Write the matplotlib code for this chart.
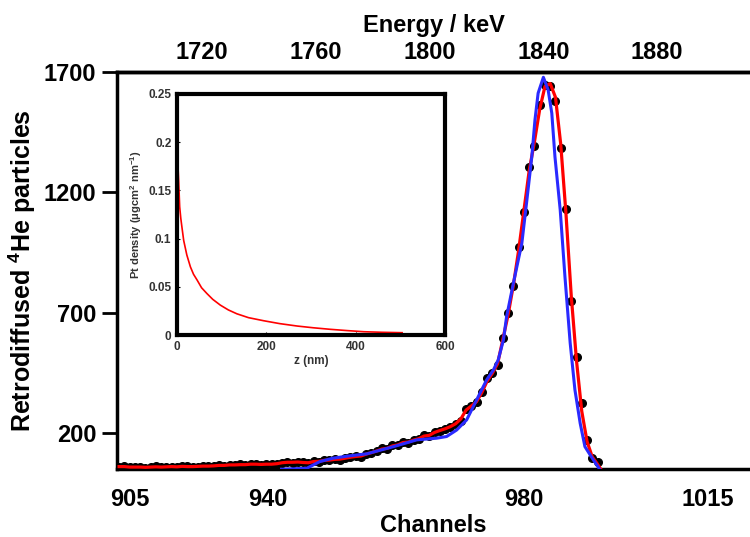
import numpy as np
import matplotlib.pyplot as plt

plt.rcParams['font.family'] = ['Liberation Sans', 'DejaVu Sans']
plt.rcParams['font.weight'] = 'bold'
plt.rcParams['mathtext.fontset'] = 'custom'
plt.rcParams['mathtext.rm'] = 'Liberation Sans:bold'
plt.rcParams['mathtext.bf'] = 'Liberation Sans:bold'
plt.rcParams['mathtext.it'] = 'Liberation Sans:bold'

# measured RBS spectrum, one point per channel (903..994)
chan = np.arange(903, 995)
counts = [60, 62, 58, 57, 59, 56, 58, 61, 57, 60,
          60, 58, 62, 61, 59, 60, 63, 61, 62, 66,
          64, 68, 66, 70, 67, 69, 72, 68, 70, 69,
          71, 76, 79, 77, 80, 78, 74, 83, 80, 88,
          86, 92, 89, 95, 99, 104, 100, 114, 116, 126,
          136, 132, 150, 148, 164, 160, 171, 175, 192, 188,
          205, 210, 218, 226, 238, 250, 300, 312, 328, 370,
          427, 448, 483,
          596, 700, 812, 973, 1120, 1306, 1393, 1563, 1646, 1643,
          1581, 1383, 1130, 749, 515, 323, 171, 95, 81]

# fit (red)
fit_chan = list(range(903, 995)) + [994.6]
fit_counts = [60, 60, 58, 58, 58, 57, 58, 59, 58, 59,
              60, 59, 61, 60, 60, 61, 62, 62, 63, 65,
              65, 67, 67, 68, 68, 70, 70, 69, 70, 70,
              72, 76, 78, 78, 79, 77, 76, 81, 82, 86,
              87, 90, 91, 95, 99, 102, 104, 112, 118, 125,
              133, 136, 146, 150, 160, 162, 170, 176, 187, 190,
              202, 210, 217, 226, 238, 258, 295, 312, 330, 368,
              415, 448, 488,
              590, 692, 815, 960, 1125, 1290, 1410, 1545, 1640, 1652,
              1595, 1400, 1110, 770, 500, 290, 165, 100, 70, 50]

# simulation (blue)
sim_chan = [933.9, 936.5, 938.7, 941.2, 943.7, 946.6, 950.1, 955.2, 959.6,
            963.4, 965.3, 967.2, 969.1, 971.0, 972.9, 974.2, 975.1, 976.1,
            976.7, 978.0, 979.6, 980.5, 981.5, 982.1, 982.7, 983.7, 984.6,
            985.3, 985.9, 986.9, 987.8, 988.8, 989.7, 990.7, 991.6, 992.9, 994.5]
sim_counts = [49, 51, 53, 81, 95, 104, 113, 143, 171,
              178, 185, 212, 254, 337, 420, 462, 503, 586,
              683, 823, 988, 1156, 1348, 1501, 1612, 1678, 1626,
              1529, 1348, 1127, 850, 573, 379, 240, 143, 98, 46]

# inset: Pt depth profile
z_nm = [1, 2.5, 3.7, 6, 8.5, 11, 15, 22, 30, 37, 45, 55, 67, 80, 97, 115,
        134, 160, 194, 230, 269, 305, 343, 380, 418, 460, 504]
pt_density = [0.19, 0.172, 0.16, 0.133, 0.121, 0.112, 0.098, 0.083, 0.0707,
              0.063, 0.057, 0.049, 0.043, 0.037, 0.031, 0.026, 0.022, 0.018,
              0.0148, 0.0118, 0.0093, 0.0075, 0.0059, 0.0046, 0.0034, 0.0028,
              0.0024]

# tick labels as printed on the original figure
chan_tick_pos = [905, 931.3, 980, 1015]
chan_tick_labels = ['905', '940', '980', '1015']
energy_ticks = [1720, 1760, 1800, 1840, 1880]
count_ticks = [200, 700, 1200, 1700]
z_ticks = [0, 200, 400, 600]
dens_ticks = [0, 0.05, 0.1, 0.15, 0.2, 0.25]
dens_labels = ['0', '0.05', '0.1', '0.15', '0.2', '0.25']


def ch2e(c):
    return 1800 + 1.8486 * (np.asarray(c) - 962.04)


def e2ch(e):
    return 962.04 + (np.asarray(e) - 1800) / 1.8486


fig = plt.figure(figsize=(7.5, 5.37), dpi=100)
ax = fig.add_axes([117 / 750, 68 / 537, 1 - 117 / 750, 397 / 537])
ax.plot(chan, counts, 'o', color='black', ms=5.5, zorder=2)
ax.plot(fit_chan, fit_counts, color='red', lw=2.3, zorder=3)
ax.plot(sim_chan, sim_counts, color='#2a2aff', lw=2.2, zorder=4)
ax.set_xlim(902.6, 1023.0)
ax.set_ylim(50, 1700)
ax.spines['right'].set_visible(False)
for s in ['left', 'bottom', 'top']:
    ax.spines[s].set_linewidth(2.5)

ax.set_yticks(count_ticks)
ax.tick_params(axis='y', direction='out', length=11, width=2, pad=4, labelsize=17)
ax.set_xticks(chan_tick_pos, chan_tick_labels)
ax.tick_params(axis='x', length=0, pad=14, labelsize=17)
ax.set_xlabel('Channels', fontsize=17, fontweight='bold', labelpad=2)
ax.set_ylabel('Retrodiffused $^{\\mathbf{4}}$He particles', fontsize=18,
              fontweight='bold', labelpad=4)

secax = ax.secondary_xaxis('top', functions=(ch2e, e2ch))
secax.set_xticks(energy_ticks)
secax.tick_params(length=0, pad=6, labelsize=17)
secax.spines['top'].set_linewidth(2.5)
secax.set_xlabel('Energy / keV', fontsize=17, fontweight='bold', labelpad=6)

ins = fig.add_axes([177 / 750, (537 - 335) / 537, 268 / 750, 241 / 537])
ins.plot(z_nm, pt_density, color='red', lw=1.2)
ins.set_xlim(0, 600)
ins.set_ylim(0, 0.25)
ins.set_xticks(z_ticks)
ins.set_yticks(dens_ticks, dens_labels)
for s in ins.spines.values():
    s.set_linewidth(3)
ins.tick_params(direction='in', length=2, width=0.8, labelsize=8.5,
                labelcolor='#333333', pad=4)
ins.set_xlabel('z (nm)', fontsize=8.5, fontweight='bold', color='#333333', labelpad=2)
ins.set_ylabel('Pt density (\u03bcgcm$^{\\mathbf{2}}$ nm$^{\\mathbf{-1}}$)',
               fontsize=8, fontweight='bold', color='#333333', labelpad=3)

fig.savefig('out.png', dpi=100)
